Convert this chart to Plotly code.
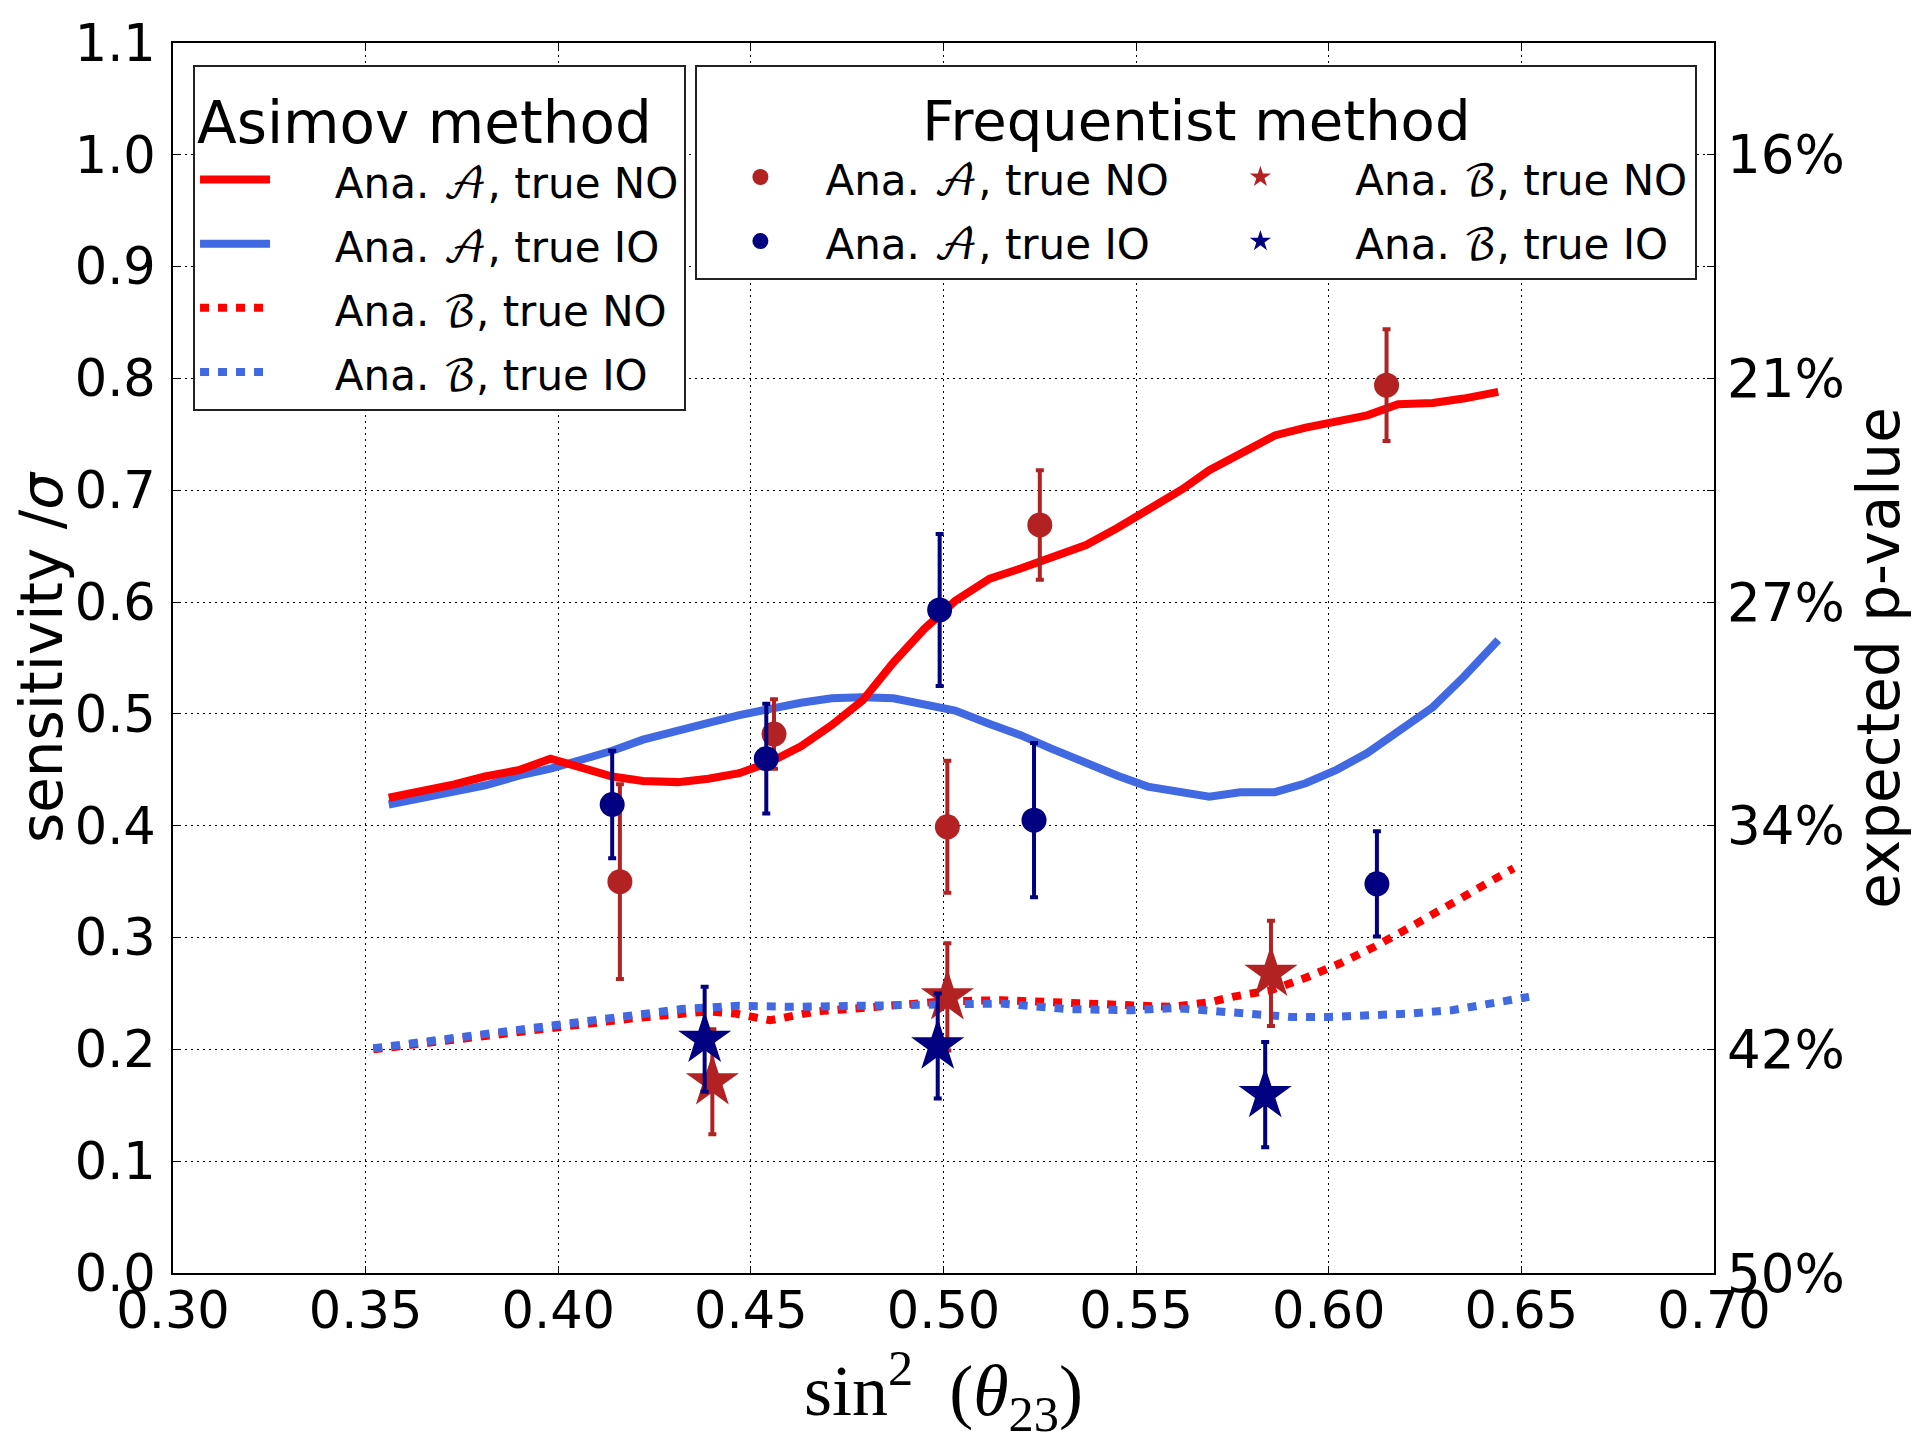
import plotly.graph_objects as go

#%%

# Asimov method, analysis A (solid curves)
x_asimov_a = [0.356, 0.365, 0.373, 0.381, 0.390, 0.398, 0.406, 0.414, 0.422, 0.431,
              0.439, 0.447, 0.455, 0.463, 0.471, 0.479, 0.487, 0.495, 0.503, 0.512,
              0.520, 0.528, 0.537, 0.545, 0.553, 0.562, 0.569, 0.577, 0.586, 0.594,
              0.602, 0.610, 0.618, 0.627, 0.635, 0.644]
sens_a_no = [0.425, 0.431, 0.437, 0.444, 0.450, 0.460, 0.452, 0.444, 0.440, 0.439,
             0.442, 0.447, 0.457, 0.471, 0.490, 0.512, 0.546, 0.576, 0.601, 0.621,
             0.630, 0.639, 0.651, 0.666, 0.683, 0.701, 0.718, 0.732, 0.749, 0.756,
             0.762, 0.767, 0.777, 0.778, 0.782, 0.788]
sens_a_io = [0.419, 0.425, 0.430, 0.436, 0.445, 0.451, 0.459, 0.467, 0.477, 0.484,
             0.492, 0.499, 0.505, 0.510, 0.514, 0.515, 0.514, 0.509, 0.503, 0.491,
             0.481, 0.469, 0.456, 0.445, 0.435, 0.429, 0.426, 0.430, 0.430, 0.438,
             0.450, 0.465, 0.484, 0.506, 0.533, 0.566]

# Asimov method, analysis B (dotted curves)
x_asimov_b_no = [0.352, 0.376, 0.400, 0.420, 0.439, 0.446, 0.455, 0.467, 0.479, 0.500,
                 0.515, 0.532, 0.549, 0.559, 0.569, 0.575, 0.585, 0.594, 0.603, 0.612,
                 0.622, 0.631, 0.640, 0.648]
sens_b_no = [0.200, 0.210, 0.220, 0.228, 0.234, 0.232, 0.226, 0.234, 0.237, 0.243,
             0.244, 0.241, 0.238, 0.238, 0.242, 0.247, 0.253, 0.264, 0.277, 0.292,
             0.311, 0.329, 0.347, 0.362]
x_asimov_b_io = [0.352, 0.376, 0.400, 0.420, 0.432, 0.447, 0.461, 0.479, 0.499, 0.515,
                 0.532, 0.549, 0.560, 0.569, 0.580, 0.590, 0.600, 0.611, 0.621, 0.632,
                 0.642, 0.652]
sens_b_io = [0.201, 0.212, 0.222, 0.231, 0.236, 0.239, 0.238, 0.239, 0.241, 0.241,
             0.236, 0.235, 0.237, 0.235, 0.231, 0.229, 0.229, 0.230, 0.232, 0.235,
             0.241, 0.247]

# Frequentist method points with errors
x_freq_a_no = [0.416, 0.456, 0.501, 0.525, 0.615]
y_freq_a_no = [0.350, 0.482, 0.399, 0.669, 0.794]
e_freq_a_no = [0.087, 0.031, 0.059, 0.049, 0.050]

x_freq_a_io = [0.414, 0.454, 0.499, 0.5235, 0.6125]
y_freq_a_io = [0.419, 0.460, 0.593, 0.405, 0.348]
e_freq_a_io = [0.048, 0.049, 0.068, 0.069, 0.047]

x_freq_b_no = [0.440, 0.501, 0.585]
y_freq_b_no = [0.171, 0.247, 0.268]
e_freq_b_no = [0.047, 0.048, 0.047]

x_freq_b_io = [0.438, 0.4985, 0.5835]
y_freq_b_io = [0.209, 0.203, 0.1595]
e_freq_b_io = [0.047, 0.047, 0.047]

# right axis: expected p-value labels
pval_tickvals = [0.0, 0.1, 0.2, 0.3, 0.4, 0.5, 0.6, 0.7, 0.8, 0.9, 1.0]
pval_ticktext = ['50%', '', '42%', '', '34%', '', '27%', '', '21%', '', '16%']

#%%

font = 'DejaVu Sans'

# legend entries: the row height follows the legend font size,
# the text itself is drawn a bit smaller like in the original
def entry(ana, order, pad=''):
    letter = {'A': '𝒜', 'B': 'ℬ'}[ana]
    return (pad + '<span style="font-size:42px">Ana. '
            '<span style="font-family:\'DejaVu Math TeX Gyre\'">' + letter + '</span>'
            ', true ' + order + '</span>')

# short line samples in the Asimov legend, text pushed right with spaces
pad_asimov = '&nbsp;&nbsp;&nbsp;&nbsp;'
pad_freq = '&nbsp;&nbsp;'

fig = go.Figure()

# dotted lines first (drawn beneath)
fig.add_trace(go.Scatter(x=x_asimov_b_no, y=sens_b_no, mode='lines',
                         name=entry('B', 'NO', pad_asimov), legend='legend', legendrank=3,
                         line=dict(color='#FF0000', width=8, dash='9px,9px')))
fig.add_trace(go.Scatter(x=x_asimov_b_io, y=sens_b_io, mode='lines',
                         name=entry('B', 'IO', pad_asimov), legend='legend', legendrank=4,
                         line=dict(color='#4169E1', width=8, dash='9px,9px')))
fig.add_trace(go.Scatter(x=x_asimov_a, y=sens_a_io, mode='lines',
                         name=entry('A', 'IO', pad_asimov), legend='legend', legendrank=2,
                         line=dict(color='#4169E1', width=8)))
fig.add_trace(go.Scatter(x=x_asimov_a, y=sens_a_no, mode='lines',
                         name=entry('A', 'NO', pad_asimov), legend='legend', legendrank=1,
                         line=dict(color='#FF0000', width=8)))

# frequentist points
def freq_trace(x, y, e, color, symbol, size, name, group, rank):
    return go.Scatter(x=x, y=y, mode='markers', name=name,
                      legend='legend2', legendgroup=group, legendrank=rank,
                      marker=dict(color=color, symbol=symbol, size=size,
                                  line=dict(width=0)),
                      error_y=dict(type='data', array=e, color=color,
                                   thickness=4, width=4))

fig.add_trace(freq_trace(x_freq_a_no, y_freq_a_no, e_freq_a_no, '#B22222',
                         'circle', 25, entry('A', 'NO'), 'A', 1))
fig.add_trace(freq_trace(x_freq_a_io, y_freq_a_io, e_freq_a_io, '#000080',
                         'circle', 25, entry('A', 'IO'), 'A', 2))
fig.add_trace(freq_trace(x_freq_b_no, y_freq_b_no, e_freq_b_no, '#B22222',
                         'star', 40, entry('B', 'NO', pad_freq), 'B', 3))
fig.add_trace(freq_trace(x_freq_b_io, y_freq_b_io, e_freq_b_io, '#000080',
                         'star', 40, entry('B', 'IO', pad_freq), 'B', 4))

# empty trace so the right hand axis gets drawn
fig.add_trace(go.Scatter(x=[None], y=[None], yaxis='y2', showlegend=False,
                         hoverinfo='skip'))

#%%

# the page body adds 8px on the left/top, margins compensate for it
fig.update_layout(
    width=1920, height=1440,
    paper_bgcolor='white', plot_bgcolor='white',
    margin=dict(l=165, r=214, t=35, b=175),
    font=dict(family=font, size=48, color='black'),
    xaxis=dict(range=[0.30, 0.70], dtick=0.05, tickformat='.2f',
               showgrid=True, gridcolor='black', griddash='2px,4px', gridwidth=1,
               zeroline=False, showline=True, linecolor='black', linewidth=2,
               mirror='ticks', ticks='inside', ticklen=7, tickcolor='black',
               tickfont=dict(size=51), ticklabelstandoff=-8, automargin=False,
               title=dict(text='sin<sup>2</sup>&nbsp;&nbsp;(<i>θ</i><sub>23</sub>)',
                          font=dict(family='Liberation Serif', size=72),
                          standoff=12)),
    yaxis=dict(range=[0, 1.1], dtick=0.1, tickformat='.1f',
               showgrid=True, gridcolor='black', griddash='2px,4px', gridwidth=1,
               zeroline=False, showline=True, linecolor='black', linewidth=2,
               mirror=True, ticks='inside', ticklen=7, tickcolor='black',
               tickfont=dict(size=51), ticklabelstandoff=5, automargin=False,
               title=dict(text='sensitivity /<i>σ</i>', font=dict(size=58),
                          standoff=10)),
    yaxis2=dict(range=[0, 1.1], overlaying='y', side='right', anchor='x',
                tickmode='array', tickvals=pval_tickvals, ticktext=pval_ticktext,
                showgrid=False, zeroline=False, showline=False,
                ticks='inside', ticklen=7, tickcolor='black',
                tickfont=dict(size=53), ticklabelstandoff=12, automargin=False,
                title=dict(text='expected p-value', font=dict(size=58),
                           standoff=6)),
    legend=dict(title=dict(text='Asimov method', font=dict(size=58)),
                x=0.013, y=0.982, xanchor='left', yanchor='top',
                bgcolor='white', bordercolor='#222', borderwidth=2,
                font=dict(size=47), itemwidth=70, traceorder='normal'),
    legend2=dict(title=dict(text='Frequentist method', font=dict(size=56),
                            side='top center'),
                 orientation='h', x=0.339, y=0.982, xanchor='left', yanchor='top',
                 bgcolor='white', bordercolor='#222', borderwidth=2,
                 font=dict(size=47), itemwidth=120, traceorder='grouped',
                 entrywidth=365, tracegroupgap=0),
)

fig.write_html("out.html")
